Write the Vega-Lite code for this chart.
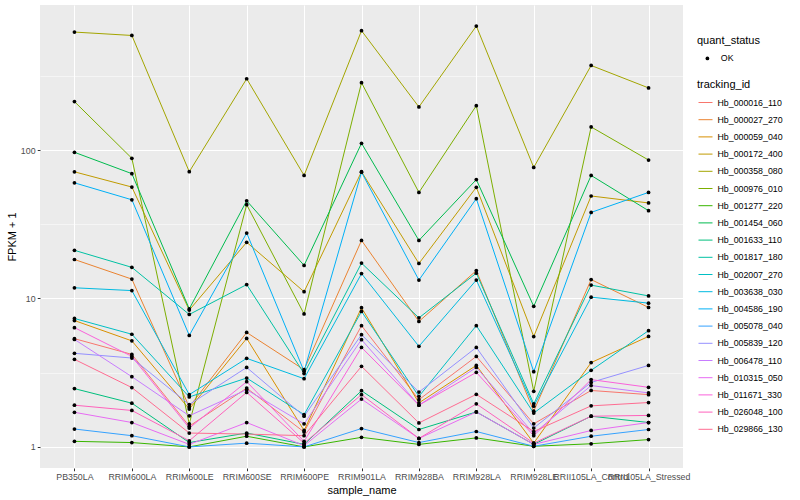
{
"$schema": "https://vega.github.io/schema/vega-lite/v6.json",
"width": 643, "height": 463,
"autosize": {"type": "none"},
"padding": {"left": 40, "top": 5, "right": 117, "bottom": 32},
"background": "white",
"config": {
  "font": "Liberation Sans",
  "view": {"fill": "#EBEBEB", "stroke": null},
  "axis": {"domain": false, "tickColor": "#333333", "tickSize": 2.75, "labelColor": "#4D4D4D", "labelFontSize": 8.8, "labelPadding": 2.2, "titleFontSize": 11, "titleColor": "black", "titleFontWeight": "normal", "gridColor": "white"},
  "legend": {"labelFontSize": 8.8, "titleFontSize": 11, "titleFontWeight": "normal", "labelColor": "black", "titleColor": "black", "padding": 0}
},
"datasets": {"expr": [
{"sample_name":"PB350LA","tracking_id":"Hb_000016_110","fpkm_plus_1":5.36,"quant_status":"OK"},
{"sample_name":"RRIM600LA","tracking_id":"Hb_000016_110","fpkm_plus_1":4.2,"quant_status":"OK"},
{"sample_name":"RRIM600LE","tracking_id":"Hb_000016_110","fpkm_plus_1":1.38,"quant_status":"OK"},
{"sample_name":"RRIM600SE","tracking_id":"Hb_000016_110","fpkm_plus_1":2.49,"quant_status":"OK"},
{"sample_name":"RRIM600PE","tracking_id":"Hb_000016_110","fpkm_plus_1":1.26,"quant_status":"OK"},
{"sample_name":"RRIM901LA","tracking_id":"Hb_000016_110","fpkm_plus_1":6.56,"quant_status":"OK"},
{"sample_name":"RRIM928BA","tracking_id":"Hb_000016_110","fpkm_plus_1":2.08,"quant_status":"OK"},
{"sample_name":"RRIM928LA","tracking_id":"Hb_000016_110","fpkm_plus_1":4.07,"quant_status":"OK"},
{"sample_name":"RRIM928LE","tracking_id":"Hb_000016_110","fpkm_plus_1":1.43,"quant_status":"OK"},
{"sample_name":"RRII105LA_Control","tracking_id":"Hb_000016_110","fpkm_plus_1":2.4,"quant_status":"OK"},
{"sample_name":"RRII105LA_Stressed","tracking_id":"Hb_000016_110","fpkm_plus_1":2.25,"quant_status":"OK"},
{"sample_name":"PB350LA","tracking_id":"Hb_000027_270","fpkm_plus_1":18.3,"quant_status":"OK"},
{"sample_name":"RRIM600LA","tracking_id":"Hb_000027_270","fpkm_plus_1":13.5,"quant_status":"OK"},
{"sample_name":"RRIM600LE","tracking_id":"Hb_000027_270","fpkm_plus_1":1.86,"quant_status":"OK"},
{"sample_name":"RRIM600SE","tracking_id":"Hb_000027_270","fpkm_plus_1":5.9,"quant_status":"OK"},
{"sample_name":"RRIM600PE","tracking_id":"Hb_000027_270","fpkm_plus_1":3.31,"quant_status":"OK"},
{"sample_name":"RRIM901LA","tracking_id":"Hb_000027_270","fpkm_plus_1":24.6,"quant_status":"OK"},
{"sample_name":"RRIM928BA","tracking_id":"Hb_000027_270","fpkm_plus_1":7.0,"quant_status":"OK"},
{"sample_name":"RRIM928LA","tracking_id":"Hb_000027_270","fpkm_plus_1":15.4,"quant_status":"OK"},
{"sample_name":"RRIM928LE","tracking_id":"Hb_000027_270","fpkm_plus_1":1.74,"quant_status":"OK"},
{"sample_name":"RRII105LA_Control","tracking_id":"Hb_000027_270","fpkm_plus_1":13.4,"quant_status":"OK"},
{"sample_name":"RRII105LA_Stressed","tracking_id":"Hb_000027_270","fpkm_plus_1":8.7,"quant_status":"OK"},
{"sample_name":"PB350LA","tracking_id":"Hb_000059_040","fpkm_plus_1":7.1,"quant_status":"OK"},
{"sample_name":"RRIM600LA","tracking_id":"Hb_000059_040","fpkm_plus_1":5.18,"quant_status":"OK"},
{"sample_name":"RRIM600LE","tracking_id":"Hb_000059_040","fpkm_plus_1":1.8,"quant_status":"OK"},
{"sample_name":"RRIM600SE","tracking_id":"Hb_000059_040","fpkm_plus_1":5.38,"quant_status":"OK"},
{"sample_name":"RRIM600PE","tracking_id":"Hb_000059_040","fpkm_plus_1":1.29,"quant_status":"OK"},
{"sample_name":"RRIM901LA","tracking_id":"Hb_000059_040","fpkm_plus_1":8.66,"quant_status":"OK"},
{"sample_name":"RRIM928BA","tracking_id":"Hb_000059_040","fpkm_plus_1":1.98,"quant_status":"OK"},
{"sample_name":"RRIM928LA","tracking_id":"Hb_000059_040","fpkm_plus_1":3.54,"quant_status":"OK"},
{"sample_name":"RRIM928LE","tracking_id":"Hb_000059_040","fpkm_plus_1":1.06,"quant_status":"OK"},
{"sample_name":"RRII105LA_Control","tracking_id":"Hb_000059_040","fpkm_plus_1":3.7,"quant_status":"OK"},
{"sample_name":"RRII105LA_Stressed","tracking_id":"Hb_000059_040","fpkm_plus_1":5.55,"quant_status":"OK"},
{"sample_name":"PB350LA","tracking_id":"Hb_000172_400","fpkm_plus_1":71.3,"quant_status":"OK"},
{"sample_name":"RRIM600LA","tracking_id":"Hb_000172_400","fpkm_plus_1":56.3,"quant_status":"OK"},
{"sample_name":"RRIM600LE","tracking_id":"Hb_000172_400","fpkm_plus_1":8.35,"quant_status":"OK"},
{"sample_name":"RRIM600SE","tracking_id":"Hb_000172_400","fpkm_plus_1":23.9,"quant_status":"OK"},
{"sample_name":"RRIM600PE","tracking_id":"Hb_000172_400","fpkm_plus_1":11.1,"quant_status":"OK"},
{"sample_name":"RRIM901LA","tracking_id":"Hb_000172_400","fpkm_plus_1":71.4,"quant_status":"OK"},
{"sample_name":"RRIM928BA","tracking_id":"Hb_000172_400","fpkm_plus_1":17.2,"quant_status":"OK"},
{"sample_name":"RRIM928LA","tracking_id":"Hb_000172_400","fpkm_plus_1":56.1,"quant_status":"OK"},
{"sample_name":"RRIM928LE","tracking_id":"Hb_000172_400","fpkm_plus_1":5.54,"quant_status":"OK"},
{"sample_name":"RRII105LA_Control","tracking_id":"Hb_000172_400","fpkm_plus_1":49,"quant_status":"OK"},
{"sample_name":"RRII105LA_Stressed","tracking_id":"Hb_000172_400","fpkm_plus_1":44,"quant_status":"OK"},
{"sample_name":"PB350LA","tracking_id":"Hb_000358_080","fpkm_plus_1":623,"quant_status":"OK"},
{"sample_name":"RRIM600LA","tracking_id":"Hb_000358_080","fpkm_plus_1":591,"quant_status":"OK"},
{"sample_name":"RRIM600LE","tracking_id":"Hb_000358_080","fpkm_plus_1":71.4,"quant_status":"OK"},
{"sample_name":"RRIM600SE","tracking_id":"Hb_000358_080","fpkm_plus_1":302,"quant_status":"OK"},
{"sample_name":"RRIM600PE","tracking_id":"Hb_000358_080","fpkm_plus_1":67.4,"quant_status":"OK"},
{"sample_name":"RRIM901LA","tracking_id":"Hb_000358_080","fpkm_plus_1":636,"quant_status":"OK"},
{"sample_name":"RRIM928BA","tracking_id":"Hb_000358_080","fpkm_plus_1":195,"quant_status":"OK"},
{"sample_name":"RRIM928LA","tracking_id":"Hb_000358_080","fpkm_plus_1":684,"quant_status":"OK"},
{"sample_name":"RRIM928LE","tracking_id":"Hb_000358_080","fpkm_plus_1":76.3,"quant_status":"OK"},
{"sample_name":"RRII105LA_Control","tracking_id":"Hb_000358_080","fpkm_plus_1":371,"quant_status":"OK"},
{"sample_name":"RRII105LA_Stressed","tracking_id":"Hb_000358_080","fpkm_plus_1":262,"quant_status":"OK"},
{"sample_name":"PB350LA","tracking_id":"Hb_000976_010","fpkm_plus_1":212,"quant_status":"OK"},
{"sample_name":"RRIM600LA","tracking_id":"Hb_000976_010","fpkm_plus_1":87.9,"quant_status":"OK"},
{"sample_name":"RRIM600LE","tracking_id":"Hb_000976_010","fpkm_plus_1":1.43,"quant_status":"OK"},
{"sample_name":"RRIM600SE","tracking_id":"Hb_000976_010","fpkm_plus_1":42.8,"quant_status":"OK"},
{"sample_name":"RRIM600PE","tracking_id":"Hb_000976_010","fpkm_plus_1":7.86,"quant_status":"OK"},
{"sample_name":"RRIM901LA","tracking_id":"Hb_000976_010","fpkm_plus_1":284,"quant_status":"OK"},
{"sample_name":"RRIM928BA","tracking_id":"Hb_000976_010","fpkm_plus_1":51.8,"quant_status":"OK"},
{"sample_name":"RRIM928LA","tracking_id":"Hb_000976_010","fpkm_plus_1":199,"quant_status":"OK"},
{"sample_name":"RRIM928LE","tracking_id":"Hb_000976_010","fpkm_plus_1":2.37,"quant_status":"OK"},
{"sample_name":"RRII105LA_Control","tracking_id":"Hb_000976_010","fpkm_plus_1":143,"quant_status":"OK"},
{"sample_name":"RRII105LA_Stressed","tracking_id":"Hb_000976_010","fpkm_plus_1":85.6,"quant_status":"OK"},
{"sample_name":"PB350LA","tracking_id":"Hb_001277_220","fpkm_plus_1":1.09,"quant_status":"OK"},
{"sample_name":"RRIM600LA","tracking_id":"Hb_001277_220","fpkm_plus_1":1.07,"quant_status":"OK"},
{"sample_name":"RRIM600LE","tracking_id":"Hb_001277_220","fpkm_plus_1":1.0,"quant_status":"OK"},
{"sample_name":"RRIM600SE","tracking_id":"Hb_001277_220","fpkm_plus_1":1.18,"quant_status":"OK"},
{"sample_name":"RRIM600PE","tracking_id":"Hb_001277_220","fpkm_plus_1":1.0,"quant_status":"OK"},
{"sample_name":"RRIM901LA","tracking_id":"Hb_001277_220","fpkm_plus_1":1.16,"quant_status":"OK"},
{"sample_name":"RRIM928BA","tracking_id":"Hb_001277_220","fpkm_plus_1":1.04,"quant_status":"OK"},
{"sample_name":"RRIM928LA","tracking_id":"Hb_001277_220","fpkm_plus_1":1.15,"quant_status":"OK"},
{"sample_name":"RRIM928LE","tracking_id":"Hb_001277_220","fpkm_plus_1":1.01,"quant_status":"OK"},
{"sample_name":"RRII105LA_Control","tracking_id":"Hb_001277_220","fpkm_plus_1":1.05,"quant_status":"OK"},
{"sample_name":"RRII105LA_Stressed","tracking_id":"Hb_001277_220","fpkm_plus_1":1.12,"quant_status":"OK"},
{"sample_name":"PB350LA","tracking_id":"Hb_001454_060","fpkm_plus_1":96.5,"quant_status":"OK"},
{"sample_name":"RRIM600LA","tracking_id":"Hb_001454_060","fpkm_plus_1":69.3,"quant_status":"OK"},
{"sample_name":"RRIM600LE","tracking_id":"Hb_001454_060","fpkm_plus_1":8.5,"quant_status":"OK"},
{"sample_name":"RRIM600SE","tracking_id":"Hb_001454_060","fpkm_plus_1":45.5,"quant_status":"OK"},
{"sample_name":"RRIM600PE","tracking_id":"Hb_001454_060","fpkm_plus_1":16.7,"quant_status":"OK"},
{"sample_name":"RRIM901LA","tracking_id":"Hb_001454_060","fpkm_plus_1":111,"quant_status":"OK"},
{"sample_name":"RRIM928BA","tracking_id":"Hb_001454_060","fpkm_plus_1":24.6,"quant_status":"OK"},
{"sample_name":"RRIM928LA","tracking_id":"Hb_001454_060","fpkm_plus_1":63.2,"quant_status":"OK"},
{"sample_name":"RRIM928LE","tracking_id":"Hb_001454_060","fpkm_plus_1":8.85,"quant_status":"OK"},
{"sample_name":"RRII105LA_Control","tracking_id":"Hb_001454_060","fpkm_plus_1":67.4,"quant_status":"OK"},
{"sample_name":"RRII105LA_Stressed","tracking_id":"Hb_001454_060","fpkm_plus_1":39,"quant_status":"OK"},
{"sample_name":"PB350LA","tracking_id":"Hb_001633_110","fpkm_plus_1":2.47,"quant_status":"OK"},
{"sample_name":"RRIM600LA","tracking_id":"Hb_001633_110","fpkm_plus_1":1.97,"quant_status":"OK"},
{"sample_name":"RRIM600LE","tracking_id":"Hb_001633_110","fpkm_plus_1":1.07,"quant_status":"OK"},
{"sample_name":"RRIM600SE","tracking_id":"Hb_001633_110","fpkm_plus_1":1.24,"quant_status":"OK"},
{"sample_name":"RRIM600PE","tracking_id":"Hb_001633_110","fpkm_plus_1":1.04,"quant_status":"OK"},
{"sample_name":"RRIM901LA","tracking_id":"Hb_001633_110","fpkm_plus_1":2.39,"quant_status":"OK"},
{"sample_name":"RRIM928BA","tracking_id":"Hb_001633_110","fpkm_plus_1":1.31,"quant_status":"OK"},
{"sample_name":"RRIM928LA","tracking_id":"Hb_001633_110","fpkm_plus_1":1.72,"quant_status":"OK"},
{"sample_name":"RRIM928LE","tracking_id":"Hb_001633_110","fpkm_plus_1":1.04,"quant_status":"OK"},
{"sample_name":"RRII105LA_Control","tracking_id":"Hb_001633_110","fpkm_plus_1":1.61,"quant_status":"OK"},
{"sample_name":"RRII105LA_Stressed","tracking_id":"Hb_001633_110","fpkm_plus_1":1.46,"quant_status":"OK"},
{"sample_name":"PB350LA","tracking_id":"Hb_001817_180","fpkm_plus_1":21.1,"quant_status":"OK"},
{"sample_name":"RRIM600LA","tracking_id":"Hb_001817_180","fpkm_plus_1":16.2,"quant_status":"OK"},
{"sample_name":"RRIM600LE","tracking_id":"Hb_001817_180","fpkm_plus_1":7.8,"quant_status":"OK"},
{"sample_name":"RRIM600SE","tracking_id":"Hb_001817_180","fpkm_plus_1":12.4,"quant_status":"OK"},
{"sample_name":"RRIM600PE","tracking_id":"Hb_001817_180","fpkm_plus_1":3.12,"quant_status":"OK"},
{"sample_name":"RRIM901LA","tracking_id":"Hb_001817_180","fpkm_plus_1":17.3,"quant_status":"OK"},
{"sample_name":"RRIM928BA","tracking_id":"Hb_001817_180","fpkm_plus_1":7.4,"quant_status":"OK"},
{"sample_name":"RRIM928LA","tracking_id":"Hb_001817_180","fpkm_plus_1":14.8,"quant_status":"OK"},
{"sample_name":"RRIM928LE","tracking_id":"Hb_001817_180","fpkm_plus_1":1.95,"quant_status":"OK"},
{"sample_name":"RRII105LA_Control","tracking_id":"Hb_001817_180","fpkm_plus_1":12.3,"quant_status":"OK"},
{"sample_name":"RRII105LA_Stressed","tracking_id":"Hb_001817_180","fpkm_plus_1":10.4,"quant_status":"OK"},
{"sample_name":"PB350LA","tracking_id":"Hb_002007_270","fpkm_plus_1":7.33,"quant_status":"OK"},
{"sample_name":"RRIM600LA","tracking_id":"Hb_002007_270","fpkm_plus_1":5.74,"quant_status":"OK"},
{"sample_name":"RRIM600LE","tracking_id":"Hb_002007_270","fpkm_plus_1":2.17,"quant_status":"OK"},
{"sample_name":"RRIM600SE","tracking_id":"Hb_002007_270","fpkm_plus_1":2.91,"quant_status":"OK"},
{"sample_name":"RRIM600PE","tracking_id":"Hb_002007_270","fpkm_plus_1":1.65,"quant_status":"OK"},
{"sample_name":"RRIM901LA","tracking_id":"Hb_002007_270","fpkm_plus_1":8.18,"quant_status":"OK"},
{"sample_name":"RRIM928BA","tracking_id":"Hb_002007_270","fpkm_plus_1":2.19,"quant_status":"OK"},
{"sample_name":"RRIM928LA","tracking_id":"Hb_002007_270","fpkm_plus_1":6.56,"quant_status":"OK"},
{"sample_name":"RRIM928LE","tracking_id":"Hb_002007_270","fpkm_plus_1":1.69,"quant_status":"OK"},
{"sample_name":"RRII105LA_Control","tracking_id":"Hb_002007_270","fpkm_plus_1":3.28,"quant_status":"OK"},
{"sample_name":"RRII105LA_Stressed","tracking_id":"Hb_002007_270","fpkm_plus_1":6.07,"quant_status":"OK"},
{"sample_name":"PB350LA","tracking_id":"Hb_003638_030","fpkm_plus_1":11.8,"quant_status":"OK"},
{"sample_name":"RRIM600LA","tracking_id":"Hb_003638_030","fpkm_plus_1":11.3,"quant_status":"OK"},
{"sample_name":"RRIM600LE","tracking_id":"Hb_003638_030","fpkm_plus_1":2.25,"quant_status":"OK"},
{"sample_name":"RRIM600SE","tracking_id":"Hb_003638_030","fpkm_plus_1":3.95,"quant_status":"OK"},
{"sample_name":"RRIM600PE","tracking_id":"Hb_003638_030","fpkm_plus_1":2.88,"quant_status":"OK"},
{"sample_name":"RRIM901LA","tracking_id":"Hb_003638_030","fpkm_plus_1":14.7,"quant_status":"OK"},
{"sample_name":"RRIM928BA","tracking_id":"Hb_003638_030","fpkm_plus_1":4.76,"quant_status":"OK"},
{"sample_name":"RRIM928LA","tracking_id":"Hb_003638_030","fpkm_plus_1":13.3,"quant_status":"OK"},
{"sample_name":"RRIM928LE","tracking_id":"Hb_003638_030","fpkm_plus_1":1.88,"quant_status":"OK"},
{"sample_name":"RRII105LA_Control","tracking_id":"Hb_003638_030","fpkm_plus_1":10.2,"quant_status":"OK"},
{"sample_name":"RRII105LA_Stressed","tracking_id":"Hb_003638_030","fpkm_plus_1":9.3,"quant_status":"OK"},
{"sample_name":"PB350LA","tracking_id":"Hb_004586_190","fpkm_plus_1":60.1,"quant_status":"OK"},
{"sample_name":"RRIM600LA","tracking_id":"Hb_004586_190","fpkm_plus_1":46.2,"quant_status":"OK"},
{"sample_name":"RRIM600LE","tracking_id":"Hb_004586_190","fpkm_plus_1":5.64,"quant_status":"OK"},
{"sample_name":"RRIM600SE","tracking_id":"Hb_004586_190","fpkm_plus_1":27.6,"quant_status":"OK"},
{"sample_name":"RRIM600PE","tracking_id":"Hb_004586_190","fpkm_plus_1":3.23,"quant_status":"OK"},
{"sample_name":"RRIM901LA","tracking_id":"Hb_004586_190","fpkm_plus_1":70.9,"quant_status":"OK"},
{"sample_name":"RRIM928BA","tracking_id":"Hb_004586_190","fpkm_plus_1":13.3,"quant_status":"OK"},
{"sample_name":"RRIM928LA","tracking_id":"Hb_004586_190","fpkm_plus_1":47,"quant_status":"OK"},
{"sample_name":"RRIM928LE","tracking_id":"Hb_004586_190","fpkm_plus_1":3.21,"quant_status":"OK"},
{"sample_name":"RRII105LA_Control","tracking_id":"Hb_004586_190","fpkm_plus_1":38,"quant_status":"OK"},
{"sample_name":"RRII105LA_Stressed","tracking_id":"Hb_004586_190","fpkm_plus_1":51.8,"quant_status":"OK"},
{"sample_name":"PB350LA","tracking_id":"Hb_005078_040","fpkm_plus_1":1.32,"quant_status":"OK"},
{"sample_name":"RRIM600LA","tracking_id":"Hb_005078_040","fpkm_plus_1":1.19,"quant_status":"OK"},
{"sample_name":"RRIM600LE","tracking_id":"Hb_005078_040","fpkm_plus_1":1.0,"quant_status":"OK"},
{"sample_name":"RRIM600SE","tracking_id":"Hb_005078_040","fpkm_plus_1":1.06,"quant_status":"OK"},
{"sample_name":"RRIM600PE","tracking_id":"Hb_005078_040","fpkm_plus_1":1.0,"quant_status":"OK"},
{"sample_name":"RRIM901LA","tracking_id":"Hb_005078_040","fpkm_plus_1":1.33,"quant_status":"OK"},
{"sample_name":"RRIM928BA","tracking_id":"Hb_005078_040","fpkm_plus_1":1.07,"quant_status":"OK"},
{"sample_name":"RRIM928LA","tracking_id":"Hb_005078_040","fpkm_plus_1":1.27,"quant_status":"OK"},
{"sample_name":"RRIM928LE","tracking_id":"Hb_005078_040","fpkm_plus_1":1.01,"quant_status":"OK"},
{"sample_name":"RRII105LA_Control","tracking_id":"Hb_005078_040","fpkm_plus_1":1.18,"quant_status":"OK"},
{"sample_name":"RRII105LA_Stressed","tracking_id":"Hb_005078_040","fpkm_plus_1":1.31,"quant_status":"OK"},
{"sample_name":"PB350LA","tracking_id":"Hb_005839_120","fpkm_plus_1":4.27,"quant_status":"OK"},
{"sample_name":"RRIM600LA","tracking_id":"Hb_005839_120","fpkm_plus_1":3.97,"quant_status":"OK"},
{"sample_name":"RRIM600LE","tracking_id":"Hb_005839_120","fpkm_plus_1":1.93,"quant_status":"OK"},
{"sample_name":"RRIM600SE","tracking_id":"Hb_005839_120","fpkm_plus_1":3.43,"quant_status":"OK"},
{"sample_name":"RRIM600PE","tracking_id":"Hb_005839_120","fpkm_plus_1":1.61,"quant_status":"OK"},
{"sample_name":"RRIM901LA","tracking_id":"Hb_005839_120","fpkm_plus_1":5.7,"quant_status":"OK"},
{"sample_name":"RRIM928BA","tracking_id":"Hb_005839_120","fpkm_plus_1":2.34,"quant_status":"OK"},
{"sample_name":"RRIM928LA","tracking_id":"Hb_005839_120","fpkm_plus_1":4.68,"quant_status":"OK"},
{"sample_name":"RRIM928LE","tracking_id":"Hb_005839_120","fpkm_plus_1":1.34,"quant_status":"OK"},
{"sample_name":"RRII105LA_Control","tracking_id":"Hb_005839_120","fpkm_plus_1":2.72,"quant_status":"OK"},
{"sample_name":"RRII105LA_Stressed","tracking_id":"Hb_005839_120","fpkm_plus_1":3.54,"quant_status":"OK"},
{"sample_name":"PB350LA","tracking_id":"Hb_006478_110","fpkm_plus_1":5.3,"quant_status":"OK"},
{"sample_name":"RRIM600LA","tracking_id":"Hb_006478_110","fpkm_plus_1":2.97,"quant_status":"OK"},
{"sample_name":"RRIM600LE","tracking_id":"Hb_006478_110","fpkm_plus_1":1.62,"quant_status":"OK"},
{"sample_name":"RRIM600SE","tracking_id":"Hb_006478_110","fpkm_plus_1":2.43,"quant_status":"OK"},
{"sample_name":"RRIM600PE","tracking_id":"Hb_006478_110","fpkm_plus_1":1.43,"quant_status":"OK"},
{"sample_name":"RRIM901LA","tracking_id":"Hb_006478_110","fpkm_plus_1":5.28,"quant_status":"OK"},
{"sample_name":"RRIM928BA","tracking_id":"Hb_006478_110","fpkm_plus_1":1.91,"quant_status":"OK"},
{"sample_name":"RRIM928LA","tracking_id":"Hb_006478_110","fpkm_plus_1":3.43,"quant_status":"OK"},
{"sample_name":"RRIM928LE","tracking_id":"Hb_006478_110","fpkm_plus_1":1.23,"quant_status":"OK"},
{"sample_name":"RRII105LA_Control","tracking_id":"Hb_006478_110","fpkm_plus_1":2.59,"quant_status":"OK"},
{"sample_name":"RRII105LA_Stressed","tracking_id":"Hb_006478_110","fpkm_plus_1":2.31,"quant_status":"OK"},
{"sample_name":"PB350LA","tracking_id":"Hb_010315_050","fpkm_plus_1":1.71,"quant_status":"OK"},
{"sample_name":"RRIM600LA","tracking_id":"Hb_010315_050","fpkm_plus_1":1.46,"quant_status":"OK"},
{"sample_name":"RRIM600LE","tracking_id":"Hb_010315_050","fpkm_plus_1":1.04,"quant_status":"OK"},
{"sample_name":"RRIM600SE","tracking_id":"Hb_010315_050","fpkm_plus_1":1.46,"quant_status":"OK"},
{"sample_name":"RRIM600PE","tracking_id":"Hb_010315_050","fpkm_plus_1":1.02,"quant_status":"OK"},
{"sample_name":"RRIM901LA","tracking_id":"Hb_010315_050","fpkm_plus_1":2.1,"quant_status":"OK"},
{"sample_name":"RRIM928BA","tracking_id":"Hb_010315_050","fpkm_plus_1":1.14,"quant_status":"OK"},
{"sample_name":"RRIM928LA","tracking_id":"Hb_010315_050","fpkm_plus_1":1.72,"quant_status":"OK"},
{"sample_name":"RRIM928LE","tracking_id":"Hb_010315_050","fpkm_plus_1":1.04,"quant_status":"OK"},
{"sample_name":"RRII105LA_Control","tracking_id":"Hb_010315_050","fpkm_plus_1":1.29,"quant_status":"OK"},
{"sample_name":"RRII105LA_Stressed","tracking_id":"Hb_010315_050","fpkm_plus_1":1.46,"quant_status":"OK"},
{"sample_name":"PB350LA","tracking_id":"Hb_011671_330","fpkm_plus_1":6.36,"quant_status":"OK"},
{"sample_name":"RRIM600LA","tracking_id":"Hb_011671_330","fpkm_plus_1":4.07,"quant_status":"OK"},
{"sample_name":"RRIM600LE","tracking_id":"Hb_011671_330","fpkm_plus_1":1.34,"quant_status":"OK"},
{"sample_name":"RRIM600SE","tracking_id":"Hb_011671_330","fpkm_plus_1":2.75,"quant_status":"OK"},
{"sample_name":"RRIM600PE","tracking_id":"Hb_011671_330","fpkm_plus_1":1.09,"quant_status":"OK"},
{"sample_name":"RRIM901LA","tracking_id":"Hb_011671_330","fpkm_plus_1":4.68,"quant_status":"OK"},
{"sample_name":"RRIM928BA","tracking_id":"Hb_011671_330","fpkm_plus_1":1.91,"quant_status":"OK"},
{"sample_name":"RRIM928LA","tracking_id":"Hb_011671_330","fpkm_plus_1":3.18,"quant_status":"OK"},
{"sample_name":"RRIM928LE","tracking_id":"Hb_011671_330","fpkm_plus_1":1.19,"quant_status":"OK"},
{"sample_name":"RRII105LA_Control","tracking_id":"Hb_011671_330","fpkm_plus_1":2.84,"quant_status":"OK"},
{"sample_name":"RRII105LA_Stressed","tracking_id":"Hb_011671_330","fpkm_plus_1":2.52,"quant_status":"OK"},
{"sample_name":"PB350LA","tracking_id":"Hb_026048_100","fpkm_plus_1":1.91,"quant_status":"OK"},
{"sample_name":"RRIM600LA","tracking_id":"Hb_026048_100","fpkm_plus_1":1.76,"quant_status":"OK"},
{"sample_name":"RRIM600LE","tracking_id":"Hb_026048_100","fpkm_plus_1":1.1,"quant_status":"OK"},
{"sample_name":"RRIM600SE","tracking_id":"Hb_026048_100","fpkm_plus_1":2.33,"quant_status":"OK"},
{"sample_name":"RRIM600PE","tracking_id":"Hb_026048_100","fpkm_plus_1":1.06,"quant_status":"OK"},
{"sample_name":"RRIM901LA","tracking_id":"Hb_026048_100","fpkm_plus_1":2.25,"quant_status":"OK"},
{"sample_name":"RRIM928BA","tracking_id":"Hb_026048_100","fpkm_plus_1":1.14,"quant_status":"OK"},
{"sample_name":"RRIM928LA","tracking_id":"Hb_026048_100","fpkm_plus_1":1.95,"quant_status":"OK"},
{"sample_name":"RRIM928LE","tracking_id":"Hb_026048_100","fpkm_plus_1":1.06,"quant_status":"OK"},
{"sample_name":"RRII105LA_Control","tracking_id":"Hb_026048_100","fpkm_plus_1":1.61,"quant_status":"OK"},
{"sample_name":"RRII105LA_Stressed","tracking_id":"Hb_026048_100","fpkm_plus_1":1.63,"quant_status":"OK"},
{"sample_name":"PB350LA","tracking_id":"Hb_029866_130","fpkm_plus_1":3.89,"quant_status":"OK"},
{"sample_name":"RRIM600LA","tracking_id":"Hb_029866_130","fpkm_plus_1":2.51,"quant_status":"OK"},
{"sample_name":"RRIM600LE","tracking_id":"Hb_029866_130","fpkm_plus_1":1.24,"quant_status":"OK"},
{"sample_name":"RRIM600SE","tracking_id":"Hb_029866_130","fpkm_plus_1":1.22,"quant_status":"OK"},
{"sample_name":"RRIM600PE","tracking_id":"Hb_029866_130","fpkm_plus_1":1.19,"quant_status":"OK"},
{"sample_name":"RRIM901LA","tracking_id":"Hb_029866_130","fpkm_plus_1":3.49,"quant_status":"OK"},
{"sample_name":"RRIM928BA","tracking_id":"Hb_029866_130","fpkm_plus_1":1.45,"quant_status":"OK"},
{"sample_name":"RRIM928LA","tracking_id":"Hb_029866_130","fpkm_plus_1":2.26,"quant_status":"OK"},
{"sample_name":"RRIM928LE","tracking_id":"Hb_029866_130","fpkm_plus_1":1.27,"quant_status":"OK"},
{"sample_name":"RRII105LA_Control","tracking_id":"Hb_029866_130","fpkm_plus_1":1.89,"quant_status":"OK"},
{"sample_name":"RRII105LA_Stressed","tracking_id":"Hb_029866_130","fpkm_plus_1":1.99,"quant_status":"OK"}
]},
"data": {"name": "expr"},
"encoding": {
  "x": {"field": "sample_name", "type": "nominal",
    "sort": ["PB350LA","RRIM600LA","RRIM600LE","RRIM600SE","RRIM600PE","RRIM901LA","RRIM928BA","RRIM928LA","RRIM928LE","RRII105LA_Control","RRII105LA_Stressed"],
    "scale": {"type": "point", "padding": 0.6},
    "axis": {"title": "sample_name", "labelAngle": 0, "labelOverlap": false, "labelBound": false, "grid": true, "gridWidth": 1, "titlePadding": 3}},
  "y": {"field": "fpkm_plus_1", "type": "quantitative",
    "scale": {"type": "log", "domain": [0.721, 948], "nice": false, "zero": false},
    "axis": {"title": "FPKM + 1", "values": [1, 3.1623, 10, 31.623, 100, 316.23],
      "labelExpr": "(datum.value == 1 || datum.value == 10 || datum.value == 100) ? datum.value : ''",
      "grid": true,
      "gridWidth": {"condition": {"test": "datum.value == 1 || datum.value == 10 || datum.value == 100", "value": 1}, "value": 0.5},
      "tickOpacity": {"condition": {"test": "datum.value == 1 || datum.value == 10 || datum.value == 100", "value": 1}, "value": 0},
      "titlePadding": 3}}
},
"layer": [
  {"mark": {"type": "line", "strokeWidth": 1},
   "encoding": {"color": {"field": "tracking_id", "type": "nominal",
     "scale": {"domain": ["Hb_000016_110","Hb_000027_270","Hb_000059_040","Hb_000172_400","Hb_000358_080","Hb_000976_010","Hb_001277_220","Hb_001454_060","Hb_001633_110","Hb_001817_180","Hb_002007_270","Hb_003638_030","Hb_004586_190","Hb_005078_040","Hb_005839_120","Hb_006478_110","Hb_010315_050","Hb_011671_330","Hb_026048_100","Hb_029866_130"],
       "range": ["#F8766D","#EA8331","#D89000","#C09B00","#A3A500","#7CAE00","#39B600","#00BB4E","#00BF7D","#00C1A3","#00BFC4","#00BAE0","#00B0F6","#35A2FF","#9590FF","#C77CFF","#E76BF3","#FA62DB","#FF62BC","#FF6C91"]},
     "legend": {"title": "tracking_id", "orient": "none", "legendX": 657, "legendY": 74, "symbolType": "stroke", "symbolSize": 196, "symbolStrokeWidth": 1, "symbolOffset": 1, "rowPadding": 4.2, "labelOffset": 4.5, "titlePadding": 5}}}},
  {"mark": {"type": "point", "filled": true, "size": 14, "color": "black", "opacity": 1},
   "encoding": {"shape": {"field": "quant_status", "type": "nominal", "scale": {"domain": ["OK"], "range": ["circle"]},
     "legend": {"title": "quant_status", "orient": "none", "legendX": 657, "legendY": 30, "symbolSize": 14, "symbolOffset": 6, "labelOffset": 9, "titlePadding": 8, "symbolFillColor": "black", "symbolStrokeColor": "black"}}}}
]
}
